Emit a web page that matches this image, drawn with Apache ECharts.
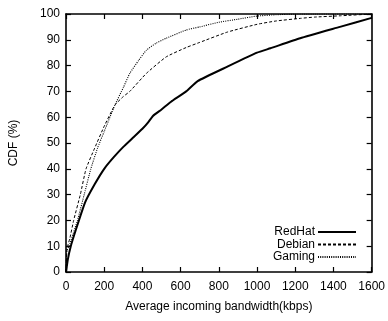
<!DOCTYPE html>
<html>
<head>
<meta charset="utf-8">
<script src="https://cdn.jsdelivr.net/npm/echarts@6/dist/echarts.min.js"></script>
<style>
html,body{margin:0;padding:0;background:#fff;}
#c{width:388px;height:321px;}
</style>
</head>
<body>
<div id="c"></div>
<script>
const xTicks = [0, 200, 400, 600, 800, 1000, 1200, 1400, 1600];
const yTicks = [0, 10, 20, 30, 40, 50, 60, 70, 80, 90, 100];

const redhatX = [0, 10, 25, 50, 100, 150, 200, 250, 300, 350, 400, 430, 455, 500, 550, 629, 689, 845, 1000, 1070, 1226, 1434, 1600];
const redhatY = [0, 5, 10, 16, 27, 34, 40, 44.5, 48.5, 52, 55.5, 58, 60.5, 63, 66, 70, 74, 79.6, 85, 86.7, 90.6, 95, 98.5];

const debianX = [0, 5, 20, 40, 75, 105, 150, 200, 256, 300, 334, 421, 525, 629, 700, 845, 1000, 1100, 1226, 1300, 1434, 1600];
const debianY = [0, 9, 13, 20, 30, 40, 48, 56.5, 64.7, 68, 70, 77, 83.4, 87, 89, 93, 96, 97.3, 98.3, 98.8, 99.3, 100];

const gamingX = [0, 5, 20, 60, 97, 130, 165, 200, 256, 300, 334, 380, 421, 470, 525, 629, 700, 800, 900, 1000, 1100, 1200, 1600];
const gamingY = [0, 8, 11, 20, 30.5, 40, 48, 54.5, 64.7, 71.5, 77, 82, 86, 88.6, 90.6, 93.8, 95, 96.8, 98, 99.2, 99.7, 100, 100];

const zip = (xs, ys) => xs.map((x, i) => [x, ys[i]]);
const FONT = 'Liberation Sans, Arial, Helvetica, sans-serif';

const axisBase = {
  min: 0,
  axisLine: { show: true, onZero: false, lineStyle: { color: '#000', width: 1.6 } },
  axisTick: { show: true, inside: true, length: 5, lineStyle: { color: '#000', width: 1.2 } },
  splitLine: { show: false }
};

const chart = echarts.init(document.getElementById('c'), null, { renderer: 'canvas' });
chart.setOption({
  animation: false,
  backgroundColor: '#fff',
  grid: { left: 64, right: 15, top: 14, bottom: 49, containLabel: false },
  xAxis: [
    Object.assign({}, axisBase, {
      type: 'value', position: 'bottom', max: 1600, interval: 200,
      name: 'Average incoming bandwidth(kbps)', nameLocation: 'middle', nameGap: 29,
      nameTextStyle: { fontFamily: FONT, fontSize: 12, color: '#000' },
      axisLabel: { show: true, margin: 9, fontFamily: FONT, fontSize: 12, color: '#000',
        formatter: v => xTicks.includes(v) ? String(v) : '' }
    }),
    Object.assign({}, axisBase, {
      type: 'value', position: 'top', max: 1600, interval: 200,
      axisLabel: { show: false }
    })
  ],
  yAxis: [
    Object.assign({}, axisBase, {
      type: 'value', position: 'left', max: 100, interval: 10,
      name: 'CDF (%)', nameLocation: 'middle', nameGap: 46,
      nameTextStyle: { fontFamily: FONT, fontSize: 12, color: '#000' },
      axisLabel: { show: true, margin: 6, fontFamily: FONT, fontSize: 12, color: '#000',
        formatter: v => yTicks.includes(v) ? String(v) : '' }
    }),
    Object.assign({}, axisBase, {
      type: 'value', position: 'right', max: 100, interval: 10,
      axisLabel: { show: false }
    })
  ],
  legend: {
    orient: 'vertical', right: 31, top: 226, align: 'right',
    itemWidth: 38, itemHeight: 13, itemGap: 0.5, padding: 0,
    itemStyle: { opacity: 0 },
    textStyle: { fontFamily: FONT, fontSize: 12, color: '#000', padding: [0, -2, 0, 0] },
    data: ['RedHat', 'Debian', 'Gaming']
  },
  series: [
    { name: 'RedHat', type: 'line', data: zip(redhatX, redhatY), symbol: 'none', smooth: 0.15,
      lineStyle: { color: '#000', width: 2 }, itemStyle: { color: '#000' } },
    { name: 'Debian', type: 'line', data: zip(debianX, debianY), symbol: 'none', smooth: 0.15,
      lineStyle: { color: '#000', width: 1, type: [3, 2] }, itemStyle: { color: '#000' } },
    { name: 'Gaming', type: 'line', data: zip(gamingX, gamingY), symbol: 'none', smooth: 0.15,
      lineStyle: { color: '#000', width: 1.1, type: [1, 1.2] }, itemStyle: { color: '#000' } }
  ]
});
</script>
</body>
</html>
